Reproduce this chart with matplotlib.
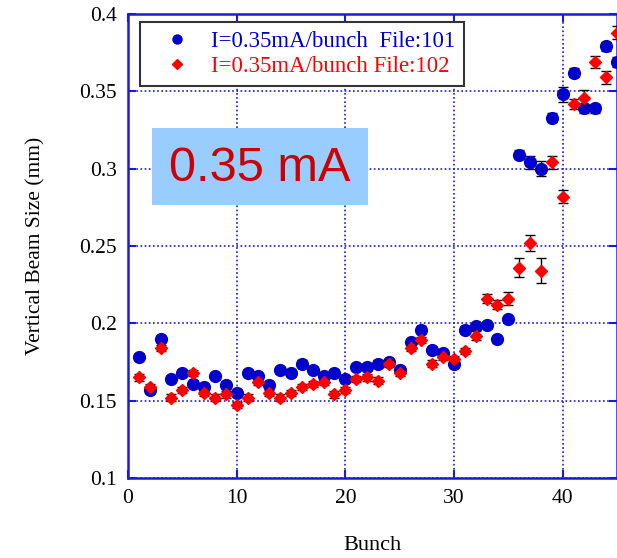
"""Vertical beam size per bunch, two files at 0.35 mA/bunch."""

import matplotlib

matplotlib.use("Agg")
import matplotlib.pyplot as plt
from matplotlib.lines import Line2D
from matplotlib.patches import Rectangle

BUNCH = list(range(1, 46))

SIZE_101 = [
    0.178, 0.157, 0.190, 0.164, 0.168, 0.161, 0.159, 0.166, 0.160, 0.155,
    0.168, 0.166, 0.160, 0.170, 0.168, 0.174, 0.170, 0.166, 0.168, 0.164,
    0.172, 0.172, 0.174, 0.175, 0.170, 0.188, 0.196, 0.183, 0.181, 0.174,
    0.196, 0.198, 0.199, 0.190, 0.203, 0.309, 0.304, 0.300, 0.333, 0.348,
    0.362, 0.339, 0.339, 0.379, 0.369,
]
ERR_101 = [
    0.002, 0.002, 0.002, 0.002, 0.002, 0.002, 0.002, 0.002, 0.002, 0.002,
    0.002, 0.002, 0.002, 0.002, 0.002, 0.002, 0.002, 0.002, 0.002, 0.002,
    0.002, 0.002, 0.002, 0.002, 0.002, 0.002, 0.002, 0.002, 0.002, 0.002,
    0.002, 0.002, 0.002, 0.002, 0.002, 0.003, 0.0045, 0.005, 0.003, 0.005,
    0.003, 0.003, 0.003, 0.003, 0.003,
]

SIZE_102 = [
    0.165, 0.159, 0.184, 0.152, 0.157, 0.168, 0.155, 0.152, 0.154, 0.147,
    0.152, 0.162, 0.155, 0.152, 0.155, 0.159, 0.161, 0.162, 0.154, 0.157,
    0.164, 0.165, 0.163, 0.174, 0.168, 0.184, 0.189, 0.174, 0.178, 0.177,
    0.182, 0.192, 0.216, 0.212, 0.216, 0.236, 0.252, 0.234, 0.304, 0.282,
    0.342, 0.346, 0.369, 0.359, 0.388,
]
ERR_102 = [
    0.002, 0.002, 0.002, 0.002, 0.002, 0.002, 0.002, 0.002, 0.002, 0.002,
    0.002, 0.002, 0.002, 0.002, 0.002, 0.002, 0.002, 0.002, 0.002, 0.002,
    0.002, 0.002, 0.002, 0.002, 0.002, 0.002, 0.002, 0.002, 0.002, 0.002,
    0.002, 0.003, 0.003, 0.003, 0.004, 0.006, 0.005, 0.008, 0.0045, 0.0045,
    0.0033, 0.005, 0.004, 0.0043, 0.004,
]

LABEL_101 = "I=0.35mA/bunch  File:101"
LABEL_102 = "I=0.35mA/bunch File:102"

BLUE = "#0000cc"
RED = "#ff0000"
AXIS_BLUE = "#1a1add"

plt.rcParams["font.family"] = ["Liberation Serif", "DejaVu Serif"]

fig = plt.figure(figsize=(6.17, 5.58), dpi=100)
ax = fig.add_axes([0.2075, 0.1434, 0.7925, 0.8315])

ax.errorbar(
    BUNCH, SIZE_101, yerr=ERR_101, fmt="o", color=BLUE, markersize=8.5,
    ecolor="black", elinewidth=1, capsize=3.5, capthick=1, zorder=3,
)
ax.errorbar(
    BUNCH, SIZE_102, yerr=ERR_102, fmt="D", color=RED, markersize=6.5,
    ecolor="black", elinewidth=1, capsize=3.5, capthick=1, zorder=4,
)

ax.set_xlim(0, 45)
ax.set_ylim(0.1, 0.4)
ax.set_xticks([0, 10, 20, 30, 40])
ax.set_yticks([0.1, 0.15, 0.2, 0.25, 0.3, 0.35, 0.4])
ax.set_yticklabels(["0.1", "0.15", "0.2", "0.25", "0.3", "0.35", "0.4"])
ax.grid(True, color=AXIS_BLUE, linestyle=(0, (1, 1.5)), linewidth=1.2)
ax.set_axisbelow(True)
for spine in ax.spines.values():
    spine.set_color(AXIS_BLUE)
    spine.set_linewidth(1.8)
ax.tick_params(
    direction="in", length=6, width=1.5, color=AXIS_BLUE,
    top=True, right=True, labelsize=15.5, pad=8,
)

ax.set_xlabel("Bunch", fontsize=16, labelpad=20)
ax.set_ylabel("Vertical Beam Size (mm)", fontsize=15.5, labelpad=24)

handles = [
    Line2D([0], [0], marker="o", color="none", markerfacecolor=BLUE,
           markeredgecolor=BLUE, markersize=6.5, label=LABEL_101),
    Line2D([0], [0], marker="D", color="none", markerfacecolor=RED,
           markeredgecolor=RED, markersize=5, label=LABEL_102),
]
legend = ax.legend(
    handles=handles, loc="upper left", bbox_to_anchor=(0.0245, 0.983),
    fontsize=16.5, frameon=True, fancybox=False, framealpha=1,
    edgecolor="#333333", handlelength=2.4, handletextpad=0.3,
    borderpad=0.4, borderaxespad=0, labelspacing=0.15, numpoints=1,
)
legend.get_frame().set_linewidth(1.5)
for text, color in zip(legend.get_texts(), [BLUE, RED]):
    text.set_color(color)

ax.add_patch(Rectangle(
    (0.049, 0.588), 0.442, 0.166, transform=ax.transAxes,
    facecolor="#99ccff", edgecolor="none", zorder=6,
))
ax.text(
    0.27, 0.668, "0.35 mA", transform=ax.transAxes, fontsize=35,
    family="Liberation Sans", color="#cc0000", va="center", ha="center",
    zorder=7,
)

fig.savefig("out.png", dpi=100)
